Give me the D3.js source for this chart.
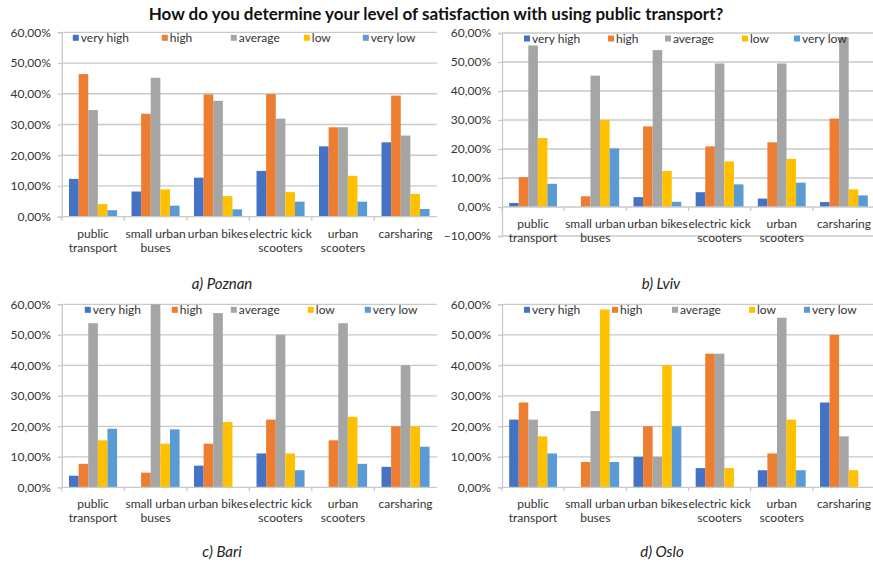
<!DOCTYPE html>
<html>
<head>
<meta charset="utf-8">
<script src="https://cdn.jsdelivr.net/npm/d3@7"></script>
<style>
  html, body { margin: 0; padding: 0; background: #ffffff; }
  svg { display: block; font-family: Lato, "Open Sans", sans-serif; }
</style>
</head>
<body>
<svg id="chart" width="873" height="568"></svg>
<script>
// Survey categories and answer levels
const categories = ["public transport", "small urban buses", "urban bikes",
  "electric kick scooters", "urban scooters", "carsharing"];
const categoryLines = [["public", "transport"], ["small urban", "buses"], ["urban bikes"],
  ["electric kick", "scooters"], ["urban", "scooters"], ["carsharing"]];
const seriesNames = ["very high", "high", "average", "low", "very low"];
const seriesColors = ["#4472C4", "#ED7D31", "#A5A5A5", "#FFC000", "#5B9BD5"];

// Share of answers (%) per city: one row per answer level, one value per category
const poznan = [
  [12.3, 8.2, 12.7, 14.9, 22.9, 24.2],
  [46.4, 33.5, 39.8, 39.9, 29.1, 39.4],
  [34.7, 45.2, 37.7, 31.9, 29.1, 26.4],
  [4.1, 8.9, 6.7, 8.0, 13.3, 7.4],
  [2.1, 3.6, 2.4, 4.9, 4.9, 2.5]
];
const lviv = [
  [1.4, 0, 3.4, 5.1, 2.9, 1.7],
  [10.3, 3.7, 27.8, 20.9, 22.3, 30.5],
  [55.7, 45.3, 54.1, 49.5, 49.5, 58.6],
  [23.8, 30.0, 12.4, 15.7, 16.6, 6.1],
  [8.0, 20.2, 1.8, 7.8, 8.4, 4.0]
];
const bari = [
  [3.8, 0, 7.1, 11.1, 0, 6.7],
  [7.7, 4.8, 14.3, 22.2, 15.4, 20.0],
  [53.8, 61.9, 57.1, 50.0, 53.8, 40.0],
  [15.4, 14.3, 21.4, 11.1, 23.1, 20.0],
  [19.2, 19.0, 0, 5.6, 7.7, 13.3]
];
const oslo = [
  [22.2, 0, 10.0, 6.3, 5.6, 27.8],
  [27.8, 8.3, 20.0, 43.8, 11.1, 50.0],
  [22.2, 25.0, 10.0, 43.8, 55.6, 16.7],
  [16.7, 58.3, 40.0, 6.3, 22.2, 5.6],
  [11.1, 8.3, 20.0, 0, 5.6, 0]
];

// Axis tick values
const ticksPositive = [0, 10, 20, 30, 40, 50, 60];
const ticksWithNegative = [-10, 0, 10, 20, 30, 40, 50, 60];

const chartTitle = "How do you determine your level of satisfaction with using public transport?";

const locale = d3.formatLocale({ decimal: ",", thousands: ".", grouping: [3], currency: ["", "€"] });
const pct = v => locale.format(".2f")(v) + "%";

const svg = d3.select("#chart");

svg.append("text")
  .attr("x", 436).attr("y", 20)
  .attr("text-anchor", "middle")
  .attr("font-size", 17).attr("font-weight", 700).attr("fill", "#111")
  .text(chartTitle);

const panels = [
  { id: "a", data: poznan, caption: "a) Poznan", x0: 61.8, x1: 436.8, yTop: 32.3, yZero: 216.7, ticks: ticksPositive,
    legendOffsets: [11, 100, 169, 242, 301], capX: 222, capY: 289 },
  { id: "b", data: lviv, caption: "b) Lviv", x0: 502, x1: 875, yTop: 33, yZero: 207, ticks: ticksWithNegative,
    legendOffsets: [22, 106, 163, 240, 292], capX: 661, capY: 289 },
  { id: "c", data: bari, caption: "c) Bari", x0: 61.8, x1: 436.8, yTop: 304.3, yZero: 487.3, ticks: ticksPositive,
    legendOffsets: [23, 110, 169, 246, 303], capX: 222, capY: 557 },
  { id: "d", data: oslo, caption: "d) Oslo", x0: 502, x1: 875, yTop: 304.3, yZero: 487.3, ticks: ticksPositive,
    legendOffsets: [22, 110, 170, 247, 302], capX: 662, capY: 557 }
];

const gridColor = "#C9C9C9";
const textColor = "#333333";

panels.forEach(p => {
  const g = svg.append("g");
  const min = d3.min(p.ticks), max = d3.max(p.ticks);
  const unit = (p.yZero - p.yTop) / max;
  const yBottom = p.yZero - min * unit;

  const y = d3.scaleLinear().domain([min, max]).range([yBottom, p.yTop]);
  const x = d3.scaleBand().domain(categories).range([p.x0, p.x1]);
  const xs = d3.scaleBand().domain(seriesNames).range([0, x.bandwidth()]).paddingOuter(0.75);

  // Horizontal gridlines
  g.append("g").selectAll("line")
    .data(p.ticks.filter(t => t !== 0))
    .join("line")
    .attr("x1", p.x0).attr("x2", p.x1)
    .attr("y1", d => y(d)).attr("y2", d => y(d))
    .attr("stroke", gridColor).attr("stroke-width", 1.3);

  // Value axis
  const yAxis = g.append("g")
    .attr("transform", `translate(${p.x0},0)`)
    .call(d3.axisLeft(y).tickValues(p.ticks).tickFormat(pct).tickSize(4).tickPadding(7));
  yAxis.select(".domain").attr("stroke", gridColor).attr("stroke-width", 1.3);
  yAxis.selectAll(".tick line").attr("stroke", gridColor).attr("stroke-width", 1.3);
  yAxis.selectAll(".tick text")
    .attr("fill", textColor).attr("font-size", 12).attr("font-family", "Lato, sans-serif");

  // Bars, clipped to the plot area
  const clipId = "clip-" + p.id;
  g.append("clipPath").attr("id", clipId)
    .append("rect").attr("x", p.x0).attr("y", p.yTop)
    .attr("width", p.x1 - p.x0).attr("height", yBottom - p.yTop);

  const bars = [];
  p.data.forEach((row, si) => row.forEach((v, ci) => bars.push({ s: seriesNames[si], si, c: categories[ci], v })));
  g.append("g").attr("clip-path", `url(#${clipId})`)
    .selectAll("rect")
    .data(bars.filter(d => d.v > 0))
    .join("rect")
    .attr("x", d => x(d.c) + xs(d.s))
    .attr("width", xs.bandwidth())
    .attr("y", d => y(d.v))
    .attr("height", d => y(0) - y(d.v))
    .attr("fill", d => seriesColors[d.si]);

  // Category axis along the zero line
  const xAxis = g.append("g")
    .attr("transform", `translate(0,${y(0)})`);
  xAxis.append("line")
    .attr("x1", p.x0).attr("x2", p.x1)
    .attr("stroke", gridColor).attr("stroke-width", 1.3);
  xAxis.selectAll("line.tick")
    .data(categories)
    .join("line")
    .attr("class", "tick")
    .attr("x1", d => x(d)).attr("x2", d => x(d))
    .attr("y1", 0).attr("y2", 4)
    .attr("stroke", gridColor).attr("stroke-width", 1.3);

  const labels = xAxis.selectAll("text")
    .data(categories)
    .join("text")
    .attr("text-anchor", "middle")
    .attr("font-size", 12).attr("fill", textColor)
    .attr("transform", d => `translate(${x(d) + x.bandwidth() / 2},21)`);
  labels.selectAll("tspan")
    .data((d, i) => categoryLines[i])
    .join("tspan")
    .attr("x", 0).attr("dy", (d, i) => i === 0 ? 0 : 14)
    .text(d => d);

  // Legend across the top of the plot
  const legendY = p.yTop + 5.5;
  const legend = g.append("g").selectAll("g")
    .data(seriesNames)
    .join("g")
    .attr("transform", (d, i) => `translate(${p.x0 + p.legendOffsets[i]},${legendY})`);
  legend.append("rect")
    .attr("x", 0).attr("y", -3).attr("width", 6).attr("height", 6)
    .attr("fill", (d, i) => seriesColors[i]);
  legend.append("text")
    .attr("x", 8).attr("y", 0).attr("dy", "0.35em")
    .attr("font-size", 12).attr("fill", textColor)
    .text(d => d);

  // Panel caption
  svg.append("text")
    .attr("x", p.capX).attr("y", p.capY)
    .attr("text-anchor", "middle")
    .attr("font-size", 15).attr("font-style", "italic").attr("fill", "#222")
    .text(p.caption);
});
</script>
</body>
</html>
